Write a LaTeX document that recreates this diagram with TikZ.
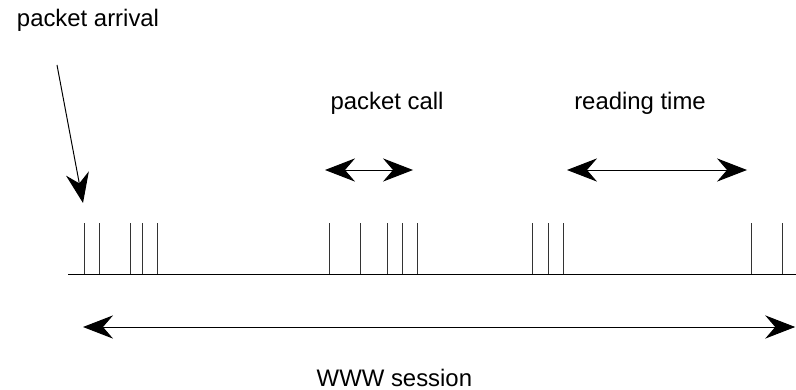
\documentclass[tikz,border=0pt]{standalone}
\usepackage{fontspec}
\setmainfont{Liberation Sans}
\usetikzlibrary{arrows.meta}

\tikzset{
  head/.tip={Stealth[length=0.75cm, width=0.58cm, inset=0.25cm]},
  span/.style={head-head, line width=0.7pt},
  tick/.style={line width=0.7pt, black!80},
  label/.style={font=\fontsize{17}{20}\selectfont, anchor=base}
}

\begin{document}
\begin{tikzpicture}
        \useasboundingbox (0,0) rectangle (19.9,9.725);
        % Time axis with packet arrivals
        \coordinate (t0) at (1.7,2.875);
        \coordinate (t1) at (19.9,2.875);
        \draw[line width=0.7pt] (t0) -- (t1);
        \foreach \x in {2.1,2.475,3.25,3.55,3.925,8.225,9.0,9.675,10.05,10.425,13.3,13.7,14.075,18.775,19.55}
            \draw[tick] (\x,2.875) -- (\x,4.15);
        % Labels
        \node[label, anchor=base west] (arrival) at (0.3,9.05) {packet arrival};
        \node[label] (call) at (9.675,6.975) {packet call};
        \node[label] (reading) at (16.0,6.975) {reading time};
        \node[label] (session) at (9.86,0.075) {WWW session};
        % Arrow pointing at first arrival
        \coordinate (a0) at (1.425,8.1);
        \coordinate (a1) at (2.075,4.65);
        \draw[-head, line width=0.7pt] (a0) -- (a1);
        % Interval spans
        \coordinate (c0) at (8.125,5.475);
        \coordinate (c1) at (10.325,5.475);
        \draw[span] (c0) -- (c1);
        \coordinate (r0) at (14.175,5.475);
        \coordinate (r1) at (18.675,5.475);
        \draw[span] (r0) -- (r1);
        \coordinate (s0) at (2.075,1.55);
        \coordinate (s1) at (19.88,1.55);
        \draw[span] (s0) -- (s1);
    \end{tikzpicture}
\end{document}
